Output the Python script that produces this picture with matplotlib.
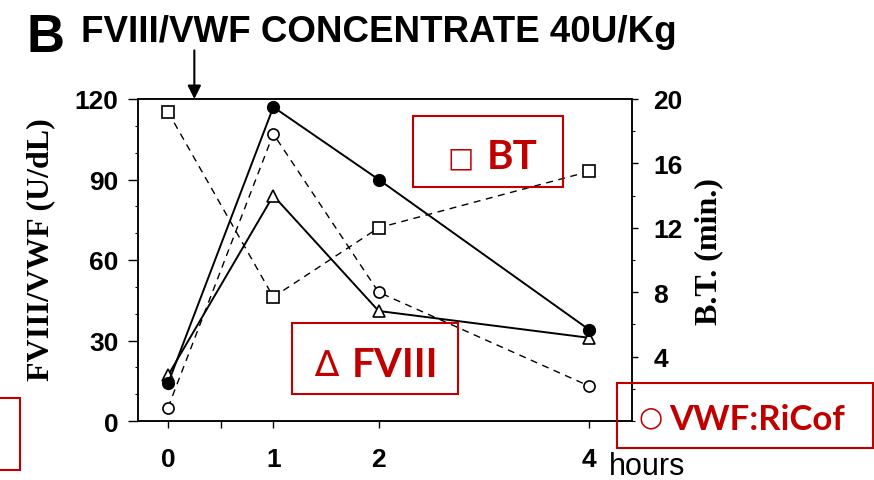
# FVIII/VWF concentrate 40U/Kg - panel B recreation

import numpy as np
import matplotlib.pyplot as plt
from matplotlib.patches import Rectangle
from matplotlib.ticker import FixedLocator, MultipleLocator

# Data
hours = [0, 1, 2, 4]
vwf_ag = [14, 117, 90, 34]        # filled circles, solid line
fviii = [17, 84, 41, 31]          # open triangles, solid line
vwf_ricof = [5, 107, 48, 13]      # open circles, dashed line
bt_min = [19.2, 7.7, 12.0, 15.5]  # open squares, dashed line (right axis)

infusion_time = 0.25

left_ticks = [0, 30, 60, 90, 120]
right_ticks = [4, 8, 12, 16, 20]
x_ticks = [0, 1, 2, 4]
x_labels = ['0', '1', '2', '4']

RED = '#C00000'
W, H = 874, 481

def fx(px):
    return px / W

def fy(py):
    return 1 - py / H

fig = plt.figure(figsize=(8.74, 4.81), dpi=100)
ax = fig.add_axes([fx(138), fy(422), (632 - 138) / W, (422 - 100) / H])

dash = (0, (5, 4))

ax.plot(hours, vwf_ricof, linestyle=dash, color='black', lw=1.0,
        marker='o', ms=8, mfc='white', mec='black', mew=1.2, clip_on=False, zorder=3)
ax.plot(hours, fviii, linestyle='-', color='black', lw=1.4,
        marker='^', ms=9, mfc='white', mec='black', mew=1.2, clip_on=False, zorder=4)
ax.plot(hours, vwf_ag, linestyle='-', color='black', lw=1.4,
        marker='o', ms=8.5, mfc='black', mec='black', clip_on=False, zorder=5)

ax.set_xlim(-0.285, 4.406)
ax.set_ylim(0, 120)
ax.set_xticks(x_ticks)
ax.set_xticklabels(x_labels)
ax.xaxis.set_minor_locator(FixedLocator([0.5]))
ax.set_yticks(left_ticks)
ax.yaxis.set_minor_locator(MultipleLocator(10))

ax2 = ax.twinx()
ax2.plot(hours, bt_min, linestyle=dash, color='black', lw=1.0,
         marker='s', ms=9, mfc='white', mec='black', mew=1.2, clip_on=False, zorder=3)
ax2.set_ylim(0, 20)
ax2.set_yticks(right_ticks)
ax2.yaxis.set_minor_locator(MultipleLocator(2))

for a in (ax, ax2):
    for sp in a.spines.values():
        sp.set_linewidth(1.1)
    for lab in a.get_xticklabels() + a.get_yticklabels():
        lab.set_fontfamily('Liberation Sans')
        lab.set_fontweight('bold')

ax.tick_params(axis='y', which='major', length=7, width=1, pad=7, labelsize=19)
ax.tick_params(axis='y', which='minor', length=2.5, width=0.8)
ax.tick_params(axis='x', which='major', length=5, width=1, pad=14, labelsize=19)
ax.tick_params(axis='x', which='minor', length=5, width=1)
ax2.tick_params(axis='y', which='major', length=4.5, width=1, pad=11, labelsize=19)
ax2.tick_params(axis='y', which='minor', length=2.5, width=0.8)

# infusion arrow
ax.annotate('', xy=(infusion_time, 120), xytext=(0, 35), textcoords='offset points',
            arrowprops=dict(arrowstyle='-|>', color='black', lw=1.5,
                            mutation_scale=20, shrinkA=0, shrinkB=0),
            annotation_clip=False)

# titles and axis labels
fig.text(fx(26), fy(52), 'B', family='Liberation Sans', weight='bold',
         size=38, va='baseline', ha='left')
fig.text(fx(81), fy(42), 'FVIII/VWF CONCENTRATE 40U/Kg', family='Liberation Sans',
         weight='bold', size=26.5, va='baseline', ha='left')
fig.text(fx(41), fy(250), 'FVIII/VWF (U/dL)', family='Liberation Serif',
         weight='bold', size=23, rotation=90, ha='center', va='center')
fig.text(fx(709), fy(252), 'B.T. (min.)', family='Liberation Serif',
         weight='bold', size=23, rotation=90, ha='center', va='center')
fig.text(fx(609), fy(475), 'hours', family='Liberation Sans', size=22,
         va='baseline', ha='left')

# red legend boxes
boxes = [(413, 117, 563, 188), (292, 324, 458, 395), (617, 384, 873, 449), (-5, 399, 20, 471)]
for x0, y0, x1, y1 in boxes:
    fig.patches.append(Rectangle((fx(x0), fy(y1)), (x1 - x0) / W, (y1 - y0) / H,
                                 transform=fig.transFigure, fill=False,
                                 edgecolor=RED, lw=1.5))

sym_font = dict(family='DejaVu Sans', color=RED, ha='center', va='center')
word_font = dict(family='Lato', weight='bold', color=RED, ha='left', va='baseline')

fig.text(fx(461), fy(158), '\u25a1', size=20, **sym_font)
fig.text(fx(487), fy(169), 'BT', size=29, **word_font)
fig.text(fx(326), fy(366), '\u2206', size=26, **sym_font)
fig.text(fx(352), fy(377), 'FVIII', size=29, **word_font)
fig.text(fx(651), fy(417), '\u25cb', size=20, **sym_font)
fig.text(fx(669), fy(430), 'VWF:RiCof', size=25, **word_font)

fig.savefig('out.png', dpi=100)
